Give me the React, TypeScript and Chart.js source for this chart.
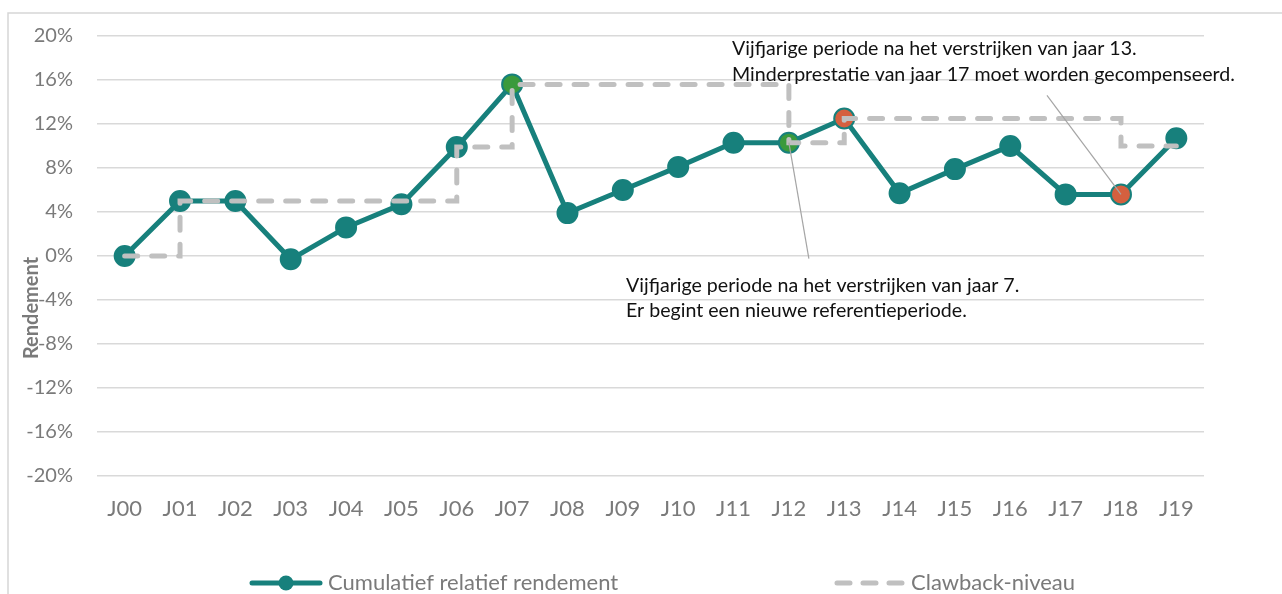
import React, { useEffect, useRef } from "react";
import { Chart, registerables } from "chart.js";

Chart.register(...registerables);

const categories = [
  "J00", "J01", "J02", "J03", "J04", "J05", "J06", "J07", "J08", "J09",
  "J10", "J11", "J12", "J13", "J14", "J15", "J16", "J17", "J18", "J19",
];
const cumulativeReturn = [
  0, 5.0, 5.0, -0.3, 2.6, 4.7, 9.9, 15.6, 3.9, 6.0,
  8.1, 10.3, 10.3, 12.5, 5.7, 7.9, 10.0, 5.6, 5.6, 10.7,
];
const clawbackLevel = [
  0, 5.0, 5.0, 5.0, 5.0, 5.0, 9.9, 15.6, 15.6, 15.6,
  15.6, 15.6, 10.3, 12.5, 12.5, 12.5, 12.5, 12.5, 10.0, 10.0,
];
const greenMarkers = ["J07", "J12"];
const redMarkers = ["J13", "J18"];
const yMin = -20;
const yMax = 20;
const yStep = 4;
const seriesNames = ["Cumulatief relatief rendement", "Clawback-niveau"];
const yAxisTitle = "Rendement";
const noteYear13 = [
  "Vijfjarige periode na het verstrijken van jaar 13.",
  "Minderprestatie van jaar 17 moet worden gecompenseerd.",
];
const noteYear13Target = "J18";
const noteYear7 = [
  "Vijfjarige periode na het verstrijken van jaar 7.",
  "Er begint een nieuwe referentieperiode.",
];
const noteYear7Target = "J12";

const FONT = "Lato, 'Open Sans', sans-serif";
const TEAL = "#17807c";
const GREEN = "#3a9a3c";
const RED = "#d5603f";
const DASH_GRAY = "#c0c0c0";
const TEXT_GRAY = "#7a7a7a";
const GRID = "#d9d9d9";

export default function App() {
  const ref = useRef<HTMLCanvasElement | null>(null);

  useEffect(() => {
    if (!ref.current) return;
    const pointColors = categories.map((c) =>
      greenMarkers.includes(c) ? GREEN : redMarkers.includes(c) ? RED : TEAL
    );

    const framePlugin = {
      id: "frame",
      beforeDraw(chart: any) {
        const ctx = chart.ctx;
        ctx.save();
        ctx.fillStyle = "#ffffff";
        ctx.fillRect(0, 0, chart.width, chart.height);
        ctx.strokeStyle = "#d6d6d6";
        ctx.lineWidth = 1.5;
        ctx.beginPath();
        ctx.moveTo(chart.width, 13);
        ctx.lineTo(8, 13);
        ctx.lineTo(8, chart.height);
        ctx.stroke();
        ctx.restore();
      },
    };

    const notesPlugin = {
      id: "notes",
      afterDatasetsDraw(chart: any) {
        const ctx = chart.ctx;
        const xs = chart.scales.x;
        const ys = chart.scales.y;
        const a = chart.chartArea;
        ctx.save();
        ctx.strokeStyle = "#a5a5a5";
        ctx.lineWidth = 1.2;
        const i13 = categories.indexOf(noteYear13Target);
        const p13x = xs.getPixelForValue(i13);
        const p13y = ys.getPixelForValue(cumulativeReturn[i13]);
        ctx.beginPath();
        ctx.moveTo(p13x - 74, p13y - 99);
        ctx.lineTo(p13x, p13y);
        ctx.stroke();
        const i7 = categories.indexOf(noteYear7Target);
        const p7x = xs.getPixelForValue(i7);
        const p7y = ys.getPixelForValue(cumulativeReturn[i7]);
        ctx.beginPath();
        ctx.moveTo(p7x, p7y);
        ctx.lineTo(p7x + 20, p7y + 116);
        ctx.stroke();
        ctx.fillStyle = "#111111";
        ctx.font = `19.6px ${FONT}`;
        ctx.textAlign = "left";
        ctx.textBaseline = "middle";
        noteYear13.forEach((t, k) => ctx.fillText(t, a.left + 635, a.top + 13 + k * 26));
        noteYear7.forEach((t, k) => ctx.fillText(t, a.left + 529, a.top + 250 + k * 25));
        ctx.restore();
      },
    };

    const extrasPlugin = {
      id: "extras",
      afterDraw(chart: any) {
        const ctx = chart.ctx;
        const a = chart.chartArea;
        ctx.save();
        ctx.fillStyle = TEXT_GRAY;
        ctx.font = `bold 20px ${FONT}`;
        ctx.textAlign = "center";
        ctx.textBaseline = "middle";
        ctx.translate(32, a.top + 272);
        ctx.rotate(-Math.PI / 2);
        ctx.fillText(yAxisTitle, 0, 0);
        ctx.restore();

        const ly = 583;
        ctx.save();
        ctx.lineCap = "round";
        ctx.strokeStyle = TEAL;
        ctx.lineWidth = 5;
        ctx.beginPath();
        ctx.moveTo(252, ly);
        ctx.lineTo(320, ly);
        ctx.stroke();
        ctx.fillStyle = TEAL;
        ctx.beginPath();
        ctx.arc(286, ly, 7.5, 0, Math.PI * 2);
        ctx.fill();

        ctx.strokeStyle = DASH_GRAY;
        ctx.setLineDash([13, 13]);
        ctx.beginPath();
        ctx.moveTo(837, ly);
        ctx.lineTo(903, ly);
        ctx.stroke();
        ctx.setLineDash([]);

        ctx.fillStyle = TEXT_GRAY;
        ctx.font = `22px ${FONT}`;
        ctx.textAlign = "left";
        ctx.textBaseline = "middle";
        ctx.fillText(seriesNames[0], 328, ly);
        ctx.fillText(seriesNames[1], 911, ly);
        ctx.restore();
      },
    };

    const chart = new Chart(ref.current, {
      type: "line",
      data: {
        labels: categories,
        datasets: [
          {
            label: seriesNames[0],
            data: cumulativeReturn,
            borderColor: TEAL,
            borderWidth: 5,
            pointRadius: 10,
            pointBorderWidth: 2,
            pointBackgroundColor: pointColors,
            pointBorderColor: TEAL,
            tension: 0,
            order: 1,
          },
          {
            label: seriesNames[1],
            data: clawbackLevel,
            borderColor: DASH_GRAY,
            borderWidth: 5,
            borderDash: [13, 14],
            borderCapStyle: "round",
            stepped: true,
            pointRadius: 0,
            order: 0,
          },
        ],
      } as any,
      options: {
        responsive: false,
        animation: false,
        layout: { padding: { left: 0, top: 33, right: 78, bottom: 58 } },
        plugins: { legend: { display: false }, tooltip: { enabled: false } },
        scales: {
          x: {
            offset: true,
            grid: { display: false, drawTicks: false, offset: true },
            border: { display: false },
            ticks: {
              color: TEXT_GRAY,
              font: { family: FONT, size: 22 },
              padding: 20,
              maxRotation: 0,
              autoSkip: false,
            },
            afterFit: (s: any) => {
              s.height = 60;
            },
          },
          y: {
            min: yMin,
            max: yMax,
            ticks: {
              stepSize: yStep,
              callback: (v: any) => `${v}%`,
              padding: 24,
              color: TEXT_GRAY,
              font: { family: FONT, size: 20 },
            },
            grid: { color: GRID, lineWidth: 1.5, drawTicks: false },
            border: { display: false },
            afterFit: (s: any) => {
              s.width = 97;
            },
          },
        },
      } as any,
      plugins: [framePlugin, notesPlugin, extrasPlugin],
    });
    return () => chart.destroy();
  }, []);

  return (
    <div style={{ position: "fixed", left: 0, top: 0, width: 1282, height: 594, background: "#fff" }}>
      <canvas ref={ref} width={1282} height={594} style={{ display: "block" }} />
    </div>
  );
}
